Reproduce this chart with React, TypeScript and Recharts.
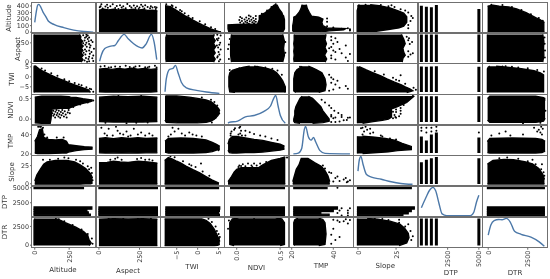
import React from 'react';
import { ComposedChart, XAxis, YAxis, Area, Bar, Line, Scatter } from 'recharts';

const names = ['Altitude', 'Aspect', 'TWI', 'NDVI', 'TMP', 'Slope', 'DTP', 'DTR'];
const domains: number[][] = [[-20, 445], [-18, 378], [-9, 6.4], [-0.135, 0.606], [18.7, 49.8], [-2.6, 39.6], [130, 5290], [-330, 3750]];
const xTicks: number[][] = [[0, 250], [0, 250], [-5, 0, 5], [0, 0.5], [20, 40], [0, 25], [2500, 5000], [0, 2500]];
const yTicks: number[][] = [[0, 100, 200, 300, 400], [0, 250], [-5, 0, 5], [0, 0.5], [20, 40], [0, 25], [2500, 5000], [0, 2500]];

// Densities on the diagonal: [value, relative density]
const altitudeDensity = [[0, .35], [10, .7], [22, .98], [30, 1], [42, .92], [60, .72], [78, .58], [100, .39], [142, .27], [211, .16], [283, .07], [356, .02], [425, 0]];
const aspectDensity = [[4, .03], [15, .26], [36, .49], [67, .57], [98, .6], [119, .77], [155, 1], [182, .83], [214, .66], [266, .51], [291, .66], [323, 1], [340, .72], [356, .09]];
const twiDensity = [[-7.8, .06], [-7.5, .52], [-6.7, .86], [-5.9, .89], [-5.3, 1], [-4.7, .75], [-3.9, .4], [-2.7, .2], [-.3, .11], [2.1, .05], [5.2, 0]];
const ndviDensity = [[-.1, 0], [-.088, .03], [.01, .08], [.1, .23], [.2, .28], [.31, .42], [.39, .62], [.42, .85], [.45, 1], [.477, .62], [.503, .28], [.56, 0]];
const tmpDensity = [[20.8, 0], [23.2, .03], [24.8, .2], [26.1, .9], [26.7, 1], [28, .62], [29.3, .5], [30.5, .6], [31.5, .44], [33.6, .12], [36, .02], [48, 0]];
const slopeDensity = [[0, .47], [.9, .88], [1.9, 1], [3.4, .7], [5.6, .35], [8.8, .26], [15.3, .18], [21.8, .09], [28.2, .03], [35.8, 0]];
const dtpDensity = [[400, .28], [784, .66], [1054, .9], [1324, 1], [1544, .88], [1814, .42], [2059, .06], [2418, 0], [4322, 0], [4592, .12], [4812, .48], [5000, .72]];
const dtrDensity = [[0, .4], [166, .76], [374, .92], [666, .96], [874, .95], [1144, 1], [1394, .87], [1664, .54], [2080, .43], [2704, .33], [3224, .16], [3550, 0]];
const densities = [altitudeDensity, aspectDensity, twiDensity, ndviDensity, tmpDensity, slopeDensity, dtpDensity, dtrDensity];

// Envelopes of the dense clouds: [key, low, high]; speckle: [key, value]
const altAspectEnv = [[0, -5, 335], [30, -5, 350], [60, -5, 338], [90, -5, 352], [120, -5, 335], [150, -5, 350], [180, -5, 338], [210, -5, 352], [240, -5, 335], [270, -5, 348], [300, -5, 332], [330, -5, 335], [360, -5, 325]];
const altAspectPts = [[15, 425], [50, 418], [85, 425], [130, 412], [175, 430], [215, 405], [260, 420], [285, 410], [320, 395], [345, 385], [355, 375], [110, 400], [190, 400], [40, 390], [70, 395], [150, 395], [235, 395], [300, 385], [10, 395], [5, 380], [330, 375], [270, 392], [22, 362], [55, 372], [100, 368], [140, 375], [165, 365], [200, 378], [225, 368], [250, 375], [280, 362], [315, 365], [350, 352], [25, 345], [120, 355], [245, 352]];
const altTwiEnv = [[-7.8, -5, 405], [-6.5, -5, 390], [-5, -5, 330], [-4, -5, 290], [-3, -5, 250], [-2, -5, 218], [-1, -5, 180], [0, -5, 146], [1, -5, 114], [2, -5, 84], [3, -5, 55], [4, -5, 30], [5, -5, 12], [5.6, -2, 4]];
const altTwiPts = [[-7.5, 425], [-6.2, 410], [-5.2, 375], [-4.2, 340], [-3.1, 290], [-2.2, 250], [.5, 165], [1.8, 120], [3.2, 75], [4.2, 50], [-6, 400], [-3.8, 320], [-1.2, 215]];
const altNdviEnv = [[0, -.09, .53], [50, -.1, .55], [100, -.1, .55], [112, -.1, .55], [118, 0, .55], [125, .24, .55], [190, .26, .55], [250, .26, .54], [260, .28, .53], [300, .33, .52], [350, .38, .49], [400, .42, .47], [420, .44, .46]];
const altNdviPts = [[122, .2], [128, .14], [135, .08], [135, .2], [142, .12], [148, .04], [150, .18], [158, .22], [160, .1], [165, .15], [172, .06], [175, .2], [180, .12], [185, .03], [190, .17], [195, .09], [200, .22], [205, .14], [212, .06], [218, .19], [225, .11], [232, .04], [240, .16], [246, .22], [255, .14], [280, .29], [330, .35], [385, .4], [425, .45]];
const altTmpEnv = [[0, 21, 33], [20, 20.5, 38], [35, 20.5, 45], [55, 20.5, 46], [65, 20.5, 37], [100, 20.5, 35], [150, 20.8, 34.5], [200, 21, 35], [230, 21, 33], [245, 22, 29.5], [300, 23.5, 28.5], [360, 24.5, 27.5], [420, 25, 27]];
const altTmpPts = [[25, 48], [45, 48], [52, 44], [60, 47], [70, 40], [38, 48], [90, 37], [210, 37], [160, 37]];
const altSlopeEnv = [[0, -.5, 4], [15, -.5, 12], [40, -.5, 20], [65, -.5, 27], [90, -.5, 30], [150, -.5, 32], [235, -.5, 32], [290, -.5, 30], [330, -.5, 26], [370, 0, 21], [405, 0, 14], [420, 1, 8]];
const altSlopePts = [[60, 33], [110, 33], [170, 34.5], [215, 36], [245, 35], [300, 33], [350, 28], [385, 24], [395, 20], [410, 22], [415, 15], [330, 31], [390, 11], [375, 7], [420, 5]];
const altDtrEnv = [[-40, -5, 395], [300, -5, 410], [700, -5, 395], [1300, -5, 385], [1800, -5, 355], [2400, -5, 298], [3000, -5, 222], [3300, -5, 188], [3560, 0, 148]];
const altDtrPts = [[200, 420], [900, 415], [1500, 385], [2100, 340], [2700, 275], [3200, 215], [3450, 175]];
const aspTwiEnv = [[0, -7.5, 3.8], [40, -7.6, 4.2], [80, -7.6, 3.7], [120, -7.6, 4.2], [160, -7.6, 3.8], [200, -7.6, 4.3], [240, -7.6, 3.8], [280, -7.6, 4.2], [320, -7.6, 3.7], [360, -7.4, 4]];
const aspTwiPts = [[10, 5.1], [35, 5.4], [75, 4.8], [100, 5.2], [130, 5], [165, 5.5], [190, 4.9], [225, 5.2], [250, 5.4], [285, 4.8], [310, 5], [345, 5.5], [60, 4.7], [300, 4.6], [215, 4.6], [355, 4.7]];
const aspNdviEnv = [[0, -.06, .53], [90, -.07, .55], [180, -.07, .54], [270, -.07, .55], [360, -.06, .53]];
const aspNdviPts = [[40, -.09], [170, -.1], [230, -.09], [300, -.08], [120, .56], [260, .56]];
const aspTmpEnv = [[0, 21.2, 36], [40, 21, 36.8], [90, 21.2, 35.8], [140, 21, 36.8], [190, 21.2, 36], [240, 21, 36.7], [290, 21.2, 36], [360, 21.2, 36.5]];
const aspTmpPts = [[15, 47], [35, 41], [60, 46], [85, 39], [115, 44], [130, 41], [150, 40], [170, 43], [195, 39], [215, 46], [240, 40], [260, 42], [285, 39], [310, 41], [330, 39], [180, 38], [105, 48], [50, 39]];
const aspSlopeEnv = [[0, -.3, 29], [50, -.3, 29.5], [90, -.3, 31], [130, -.3, 30], [180, -.3, 29.5], [240, -.3, 31], [300, -.3, 30], [360, -.3, 28.5]];
const aspSlopePts = [[70, 33], [100, 34.5], [115, 36], [140, 33], [235, 34], [260, 35.5], [285, 33], [310, 33.5], [330, 32]];
const aspDtrEnv = [[0, -50, 3450], [90, -50, 3520], [180, -50, 3500], [270, -50, 3520], [360, -50, 3450]];
const aspDtrPts = [[60, 3580], [150, 3590], [240, 3570], [320, 3560]];
const twiNdviEnv = [[-7.8, -.02, .55], [-7.5, -.08, .56], [-5, -.09, .56], [-2, -.09, .53], [0, -.09, .5], [2, -.08, .46], [3.2, -.05, .42], [4, 0, .36], [4.8, .08, .28], [5.3, .15, .2]];
const twiNdviPts = [[3.2, .47], [4, .41], [4.7, .33], [5, .24], [4.3, .03], [3.4, -.08], [1, .52]];
const twiTmpEnv = [[-7.8, 22, 33], [-7, 21, 36], [-4, 21, 36.5], [-1, 21, 36], [2, 21.5, 34.5], [3.5, 22.5, 32], [4.5, 24, 30], [5.3, 25, 28]];
const twiTmpPts = [[-6, 47], [-5.5, 43], [-6.4, 40], [-4.6, 46], [-3.8, 41], [-3, 39], [-2, 42], [-1.2, 40], [-.3, 39], [1, 38], [-7, 38], [4, 25], [5, 24]];
const twiSlopeEnv = [[-7.9, -.5, 32], [-7, -.5, 36], [-6, -.5, 34], [-5, -.5, 31], [-4, -.5, 28.5], [-2.7, -.5, 24], [-1, -.5, 19], [.5, -.5, 15], [2, -.5, 10], [3.4, -.5, 5.5], [5.1, -.5, .8]];
const twiSlopePts = [[-6.5, 38], [-5.5, 36.5], [-3.5, 31], [-2, 27], [-.5, 23], [.8, 28], [1.2, 17], [2.8, 11], [-1.5, 25]];
const twiDtrEnv = [[-7.9, -50, 3500], [1, -50, 3500], [2, -50, 3300], [3, -50, 2900], [4, -50, 2100], [4.8, 0, 1200], [5.3, 100, 500]];
const twiDtrPts = [[2.6, 3520], [3.4, 3100], [4.3, 2500], [4.6, 1900], [5, 1500], [5.1, 900], [5.3, 1100], [4.4, 300]];
const ndviTmpEnv = [[-.1, 24, 30], [-.085, 21.5, 35], [-.05, 21, 38], [0, 21, 38], [.1, 21.5, 36.5], [.2, 21.5, 35], [.3, 22, 34], [.4, 23, 32], [.5, 24, 30], [.55, 25, 28]];
const ndviTmpPts = [[.03, 47], [.05, 44], [.04, 41], [.06, 39], [.02, 40], [.47, 34.4], [.4, 36], [.33, 38], [.27, 39], [.2, 40.5], [.15, 42.4], [.1, 44], [.04, 48], [-.02, 46.5], [-.03, 45], [-.07, 39], [.1, 39], [-.06, 43], [-.07, 41]];
const ndviSlopeEnv = [[-.1, -.3, 3], [-.06, -.3, 10], [-.03, -.3, 16], [0, -.3, 20], [.05, -.3, 22], [.25, -.3, 22], [.3, -.3, 26], [.4, -.3, 32], [.5, -.3, 35], [.56, -.3, 37]];
const ndviSlopePts = [[.03, 25], [.07, 27], [.1, 24], [.13, 28], [.17, 25], [.2, 28], [.23, 25], [.27, 28], [.18, 23], [.28, 23.5], [.02, 23], [.05, 24.5], [.34, 30], [.58, 36]];
const ndviDtrEnv = [[-40, -.03, .5], [100, -.08, .55], [1500, -.08, .55], [3000, -.08, .55], [3500, -.05, .52], [3600, .02, .45]];
const ndviDtrPts = [[3300, -.09], [2200, -.1], [3560, .5], [3620, .2]];
const tmpSlopeEnv = [[20.5, -.3, 3], [21, -.3, 8], [22.2, -.3, 20], [23.5, -.3, 26], [24.6, -.3, 35], [27.8, -.3, 35], [31, -.3, 29], [34.2, -.3, 24], [36, -.3, 18], [37.4, -.3, 11], [38.3, -.3, 3]];
const tmpSlopePts = [[39, 15], [41, 8], [43, 4], [45, 6], [46, 8], [47, 3], [48, 5], [36, 21], [38, 16], [35, 25], [40, 3], [42, 10], [46.5, 2]];
const tmpDtrEnv = [[-50, 21.5, 33], [100, 21, 36], [1500, 21, 36.5], [3000, 21, 36], [3400, 21.5, 35], [3600, 23, 33]];
const tmpDtrPts = [[2900, 47], [3200, 45], [3350, 48], [3100, 43], [3300, 42], [3400, 40], [3450, 46], [700, 41], [1100, 43], [1400, 39], [2200, 40], [200, 39]];
const slopeDtrEnv = [[-50, -.3, 27], [300, -.3, 32], [1000, -.3, 33.5], [1600, -.3, 33], [2300, -.3, 30.5], [2800, -.3, 27.5], [3200, -.3, 21], [3450, -.3, 13], [3560, -.3, 6]];
const slopeDtrPts = [[700, 35], [1200, 36], [1900, 34.5], [2500, 31], [3000, 27], [3350, 20], [3400, 27], [3500, 16], [3550, 11], [2800, 33]];

// DTP is discrete: [DTP, low, high] per level
const altDtpBars = [[400, -5, 404], [800, -5, 389], [1200, -5, 379], [1600, -5, 415], [5000, -5, 354]];
const aspDtpBars = [[400, 0, 360], [800, 0, 360], [1200, 0, 360], [1600, 0, 360], [5000, 0, 360]];
const twiDtpBars = [[400, -7.6, 5.2], [800, -7.6, 5], [1200, -7.6, 5.2], [1600, -7.6, 5.3], [5000, -7.6, 5]];
const ndviDtpBars = [[400, -.07, .55], [800, -.07, .55], [1200, -.07, .55], [1600, -.07, .55], [5000, -.07, .55]];
const tmpDtpBars = [[400, 21, 38], [800, 21, 34], [1200, 21, 40], [1600, 21, 42], [5000, 21, 37]];
const tmpDtpPts = [[400, 44], [400, 47], [800, 42], [800, 47], [1200, 43], [1200, 47], [1600, 44], [1600, 48], [5000, 42]];
const slopeDtpBars = [[400, -.3, 29.5], [800, -.3, 33], [1200, -.3, 35], [1600, -.3, 37], [5000, -.3, 35]];
const dtrDtpBars = [[400, -50, 3550], [800, -50, 3550], [1200, -50, 3550], [1600, -50, 3550], [5000, -50, 3550]];

const pairs: any[] = [
  { k: 1, v: 0, env: altAspectEnv, pts: altAspectPts },
  { k: 2, v: 0, env: altTwiEnv, pts: altTwiPts },
  { k: 0, v: 3, env: altNdviEnv, pts: altNdviPts },
  { k: 0, v: 4, env: altTmpEnv, pts: altTmpPts },
  { k: 0, v: 5, env: altSlopeEnv, pts: altSlopePts },
  { k: 7, v: 0, env: altDtrEnv, pts: altDtrPts },
  { k: 1, v: 2, env: aspTwiEnv, pts: aspTwiPts },
  { k: 1, v: 3, env: aspNdviEnv, pts: aspNdviPts },
  { k: 1, v: 4, env: aspTmpEnv, pts: aspTmpPts },
  { k: 1, v: 5, env: aspSlopeEnv, pts: aspSlopePts },
  { k: 1, v: 7, env: aspDtrEnv, pts: aspDtrPts },
  { k: 2, v: 3, env: twiNdviEnv, pts: twiNdviPts },
  { k: 2, v: 4, env: twiTmpEnv, pts: twiTmpPts },
  { k: 2, v: 5, env: twiSlopeEnv, pts: twiSlopePts },
  { k: 2, v: 7, env: twiDtrEnv, pts: twiDtrPts },
  { k: 3, v: 4, env: ndviTmpEnv, pts: ndviTmpPts },
  { k: 3, v: 5, env: ndviSlopeEnv, pts: ndviSlopePts },
  { k: 7, v: 3, env: ndviDtrEnv, pts: ndviDtrPts },
  { k: 4, v: 5, env: tmpSlopeEnv, pts: tmpSlopePts },
  { k: 7, v: 4, env: tmpDtrEnv, pts: tmpDtrPts },
  { k: 7, v: 5, env: slopeDtrEnv, pts: slopeDtrPts },
  { k: 6, v: 0, bars: altDtpBars, pts: [] },
  { k: 6, v: 1, bars: aspDtpBars, pts: [] },
  { k: 6, v: 2, bars: twiDtpBars, pts: [] },
  { k: 6, v: 3, bars: ndviDtpBars, pts: [] },
  { k: 6, v: 4, bars: tmpDtpBars, pts: tmpDtpPts },
  { k: 6, v: 5, bars: slopeDtpBars, pts: [] },
  { k: 6, v: 7, bars: dtrDtpBars, pts: [] },
];

const colEdge = [32, 96, 160.3, 224.7, 289, 353.7, 418, 482.5, 547];
const rowEdge = [2.5, 33, 63.5, 94.3, 125, 155.3, 186, 217, 247.7];
const xLabelPos = [[63, 270], [128, 270.5], [192, 267], [256.5, 268], [321, 266], [385.3, 266], [450.7, 273], [515, 273]];
const yLabelPos = [[9, 17.7], [17.7, 49], [11.7, 79], [11, 110], [11, 140.7], [11.7, 171.7], [5, 202], [5, 232]];

const tickFill = '#333';
const fmt = (i: number) => (t: number) => {
  if (i === 3) return t.toFixed(1);
  return t < 0 ? '\u2212' + Math.abs(t) : String(t);
};
const dot = (p: any) => <circle cx={p.cx} cy={p.cy} r={1} fill="#000" />;

function Panel({ r, c }: { r: number; c: number }) {
  const left = c === 0 ? 0 : colEdge[c];
  const pw = colEdge[c + 1] - colEdge[c];
  const ph = rowEdge[r + 1] - rowEdge[r];
  const leftW = c === 0 ? colEdge[0] : 0;
  const botH = r === 7 ? 31 : 0;
  const diag = r === c;
  const pair = diag ? null : pairs.find((p) => (p.k === c && p.v === r) || (p.k === r && p.v === c));
  const horizontal = diag || pair.k === c;
  const cat = horizontal ? 'px' : 'py';
  let rows: any[] = [];
  if (diag) rows = densities[c].map(([x, d]) => ({ px: x, d }));
  else rows = (pair.bars || pair.env).map(([k, lo, hi]: number[]) => ({ [cat]: k, band: [lo, hi] }));
  const speckle = diag ? [] : pair.pts.map(([k, v]: number[]) => (horizontal ? { px: k, py: v } : { px: v, py: k }));
  return (
    <div style={{ position: 'absolute', left, top: rowEdge[r] }}>
      <ComposedChart
        width={pw + leftW}
        height={ph + botH}
        data={rows}
        layout={horizontal ? 'horizontal' : 'vertical'}
        margin={{ top: 0, right: 0, bottom: 0, left: 0 }}
      >
        <XAxis
          type="number"
          dataKey="px"
          domain={domains[c]}
          allowDataOverflow
          hide={r !== 7}
          height={botH}
          ticks={xTicks[c]}
          interval={0}
          tickFormatter={fmt(c)}
          tick={{ fontSize: 6.4, fill: tickFill, fontFamily: 'DejaVu Sans' }}
          angle={-90}
          textAnchor="end"
          dx={-2}
          dy={-1}
          tickSize={2}
          tickLine={{ stroke: '#444', strokeWidth: 0.8 }}
          axisLine={false}
        />
        <YAxis
          type="number"
          dataKey="py"
          domain={domains[r]}
          allowDataOverflow
          reversed={!horizontal}
          hide={c !== 0}
          width={leftW}
          ticks={yTicks[r]}
          interval={0}
          tickFormatter={fmt(r)}
          tick={{ fontSize: 6.4, fill: tickFill, fontFamily: 'DejaVu Sans' }}
          tickSize={2}
          tickMargin={1}
          tickLine={{ stroke: '#444', strokeWidth: 0.8 }}
          axisLine={false}
        />
        {diag && <YAxis yAxisId="density" type="number" domain={[-0.05, 1.05]} hide />}
        {diag && (
          <Line yAxisId="density" type="monotone" dataKey="d" stroke="#4c78a8" strokeWidth={1.4} dot={false} isAnimationActive={false} />
        )}
        {!diag && pair.env && (
          <Area type="linear" dataKey="band" fill="#000" fillOpacity={1} stroke="#000" strokeWidth={1.4} connectNulls dot={false} activeDot={false} isAnimationActive={false} />
        )}
        {!diag && pair.bars && (
          <Bar dataKey="band" barSize={3} fill="#000" stroke={horizontal ? 'none' : '#000'} strokeWidth={horizontal ? 0 : 1.2} isAnimationActive={false} />
        )}
        {speckle.length > 0 && <Scatter data={speckle} shape={dot} isAnimationActive={false} />}
      </ComposedChart>
    </div>
  );
}

export default function App() {
  const idx = names.map((_, i) => i);
  return (
    <div style={{ position: 'absolute', left: 0, top: 0, width: 550, height: 279, background: '#fff', overflow: 'hidden', fontFamily: 'DejaVu Sans', filter: 'blur(0.35px)' }}>
      <style>{'svg.recharts-surface{overflow:visible}'}</style>
      {idx.map((r) => idx.map((c) => <Panel key={r + '-' + c} r={r} c={c} />))}
      {idx.map((r) =>
        idx.map((c) => (
          <div
            key={'f' + r + '-' + c}
            style={{
              position: 'absolute',
              left: colEdge[c] - 0.7,
              top: rowEdge[r] - 0.7,
              width: colEdge[c + 1] - colEdge[c] + 1.4,
              height: rowEdge[r + 1] - rowEdge[r] + 1.4,
              boxSizing: 'border-box',
              border: '1.4px solid #707070',
            }}
          />
        ))
      )}
      {names.map((n, i) => (
        <span key={'x' + n} style={{ position: 'absolute', left: xLabelPos[i][0], top: xLabelPos[i][1], transform: 'translate(-50%,-50%)', fontSize: 7, color: '#333', whiteSpace: 'nowrap' }}>{n}</span>
      ))}
      {names.map((n, i) => (
        <span key={'y' + n} style={{ position: 'absolute', left: yLabelPos[i][0], top: yLabelPos[i][1], transform: 'translate(-50%,-50%) rotate(-90deg)', fontSize: 7, color: '#333', whiteSpace: 'nowrap' }}>{n}</span>
      ))}
    </div>
  );
}
